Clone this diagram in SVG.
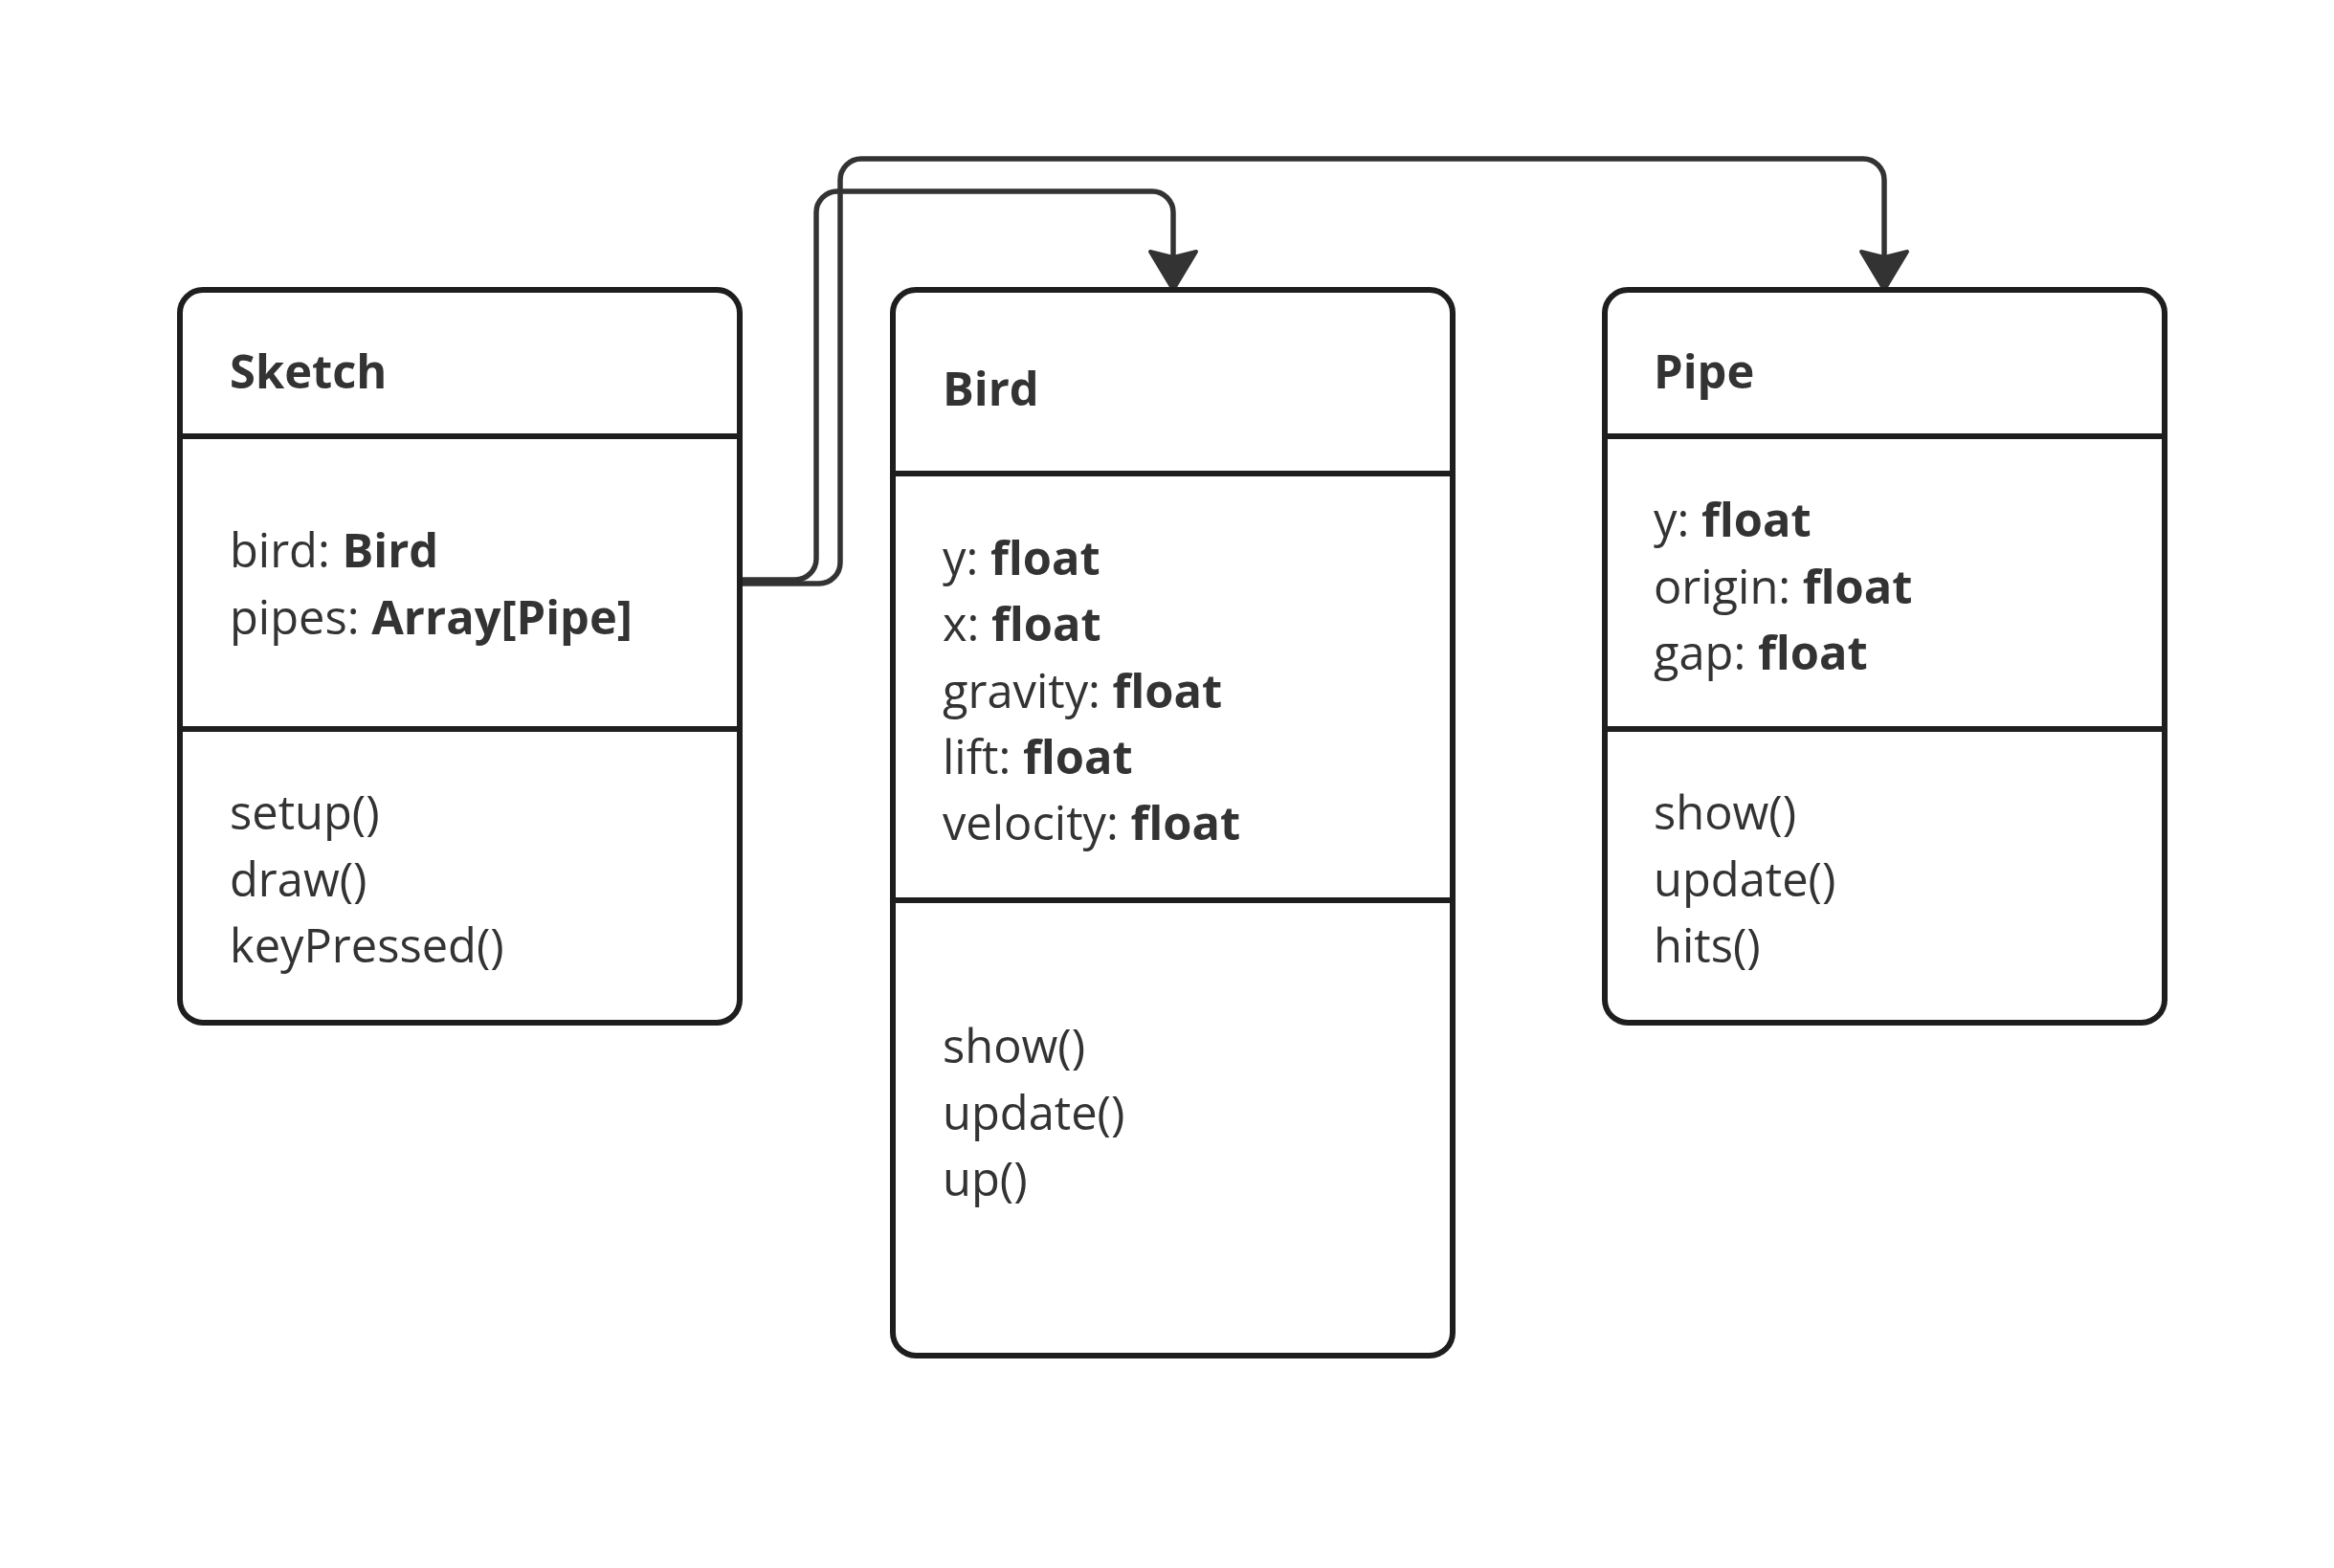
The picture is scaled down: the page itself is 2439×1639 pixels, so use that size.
<svg xmlns="http://www.w3.org/2000/svg" width="2439" height="1639" viewBox="0 0 2439 1639">
<style>
.box{fill:#ffffff;stroke:#1e1e1e;stroke-width:6}
.div{stroke:#1e1e1e;stroke-width:6;fill:none}
.t{font-family:"Open Sans","Noto Sans","Liberation Sans",sans-serif;font-size:48.8px;fill:#333333}
.b{font-weight:bold}
.conn{fill:none;stroke:#333333;stroke-width:5.5}
</style>
<defs>
<marker id="arr" markerUnits="userSpaceOnUse" markerWidth="60" markerHeight="60" refX="0" refY="0" orient="auto" overflow="visible" viewBox="-10 -30 50 60">
<path d="M 34 0 L -6 -24 L 0 0 L -6 24 Z" fill="#333333" stroke="#333333" stroke-width="4" stroke-linejoin="round"/>
</marker>
</defs>
<rect width="2439" height="1639" fill="#ffffff"/>
<g id="connectors">
<path class="conn" d="M 773 606 H 831 A 22 22 0 0 0 853 584 V 222 A 22 22 0 0 1 875 200 H 1204 A 22 22 0 0 1 1226 222 V 269" marker-end="url(#arr)"/>
<path class="conn" d="M 773 610 H 856 A 22 22 0 0 0 878 588 V 188 A 22 22 0 0 1 900 166 H 1947 A 22 22 0 0 1 1969 188 V 269" marker-end="url(#arr)"/>
</g>
<g id="sketch">
<rect class="box" x="188" y="303" width="585" height="766" rx="24"/>
<line class="div" x1="188" y1="456" x2="773" y2="456"/>
<line class="div" x1="188" y1="762" x2="773" y2="762"/>
<text class="t b" x="240" y="406">Sketch</text>
<text class="t" x="240" y="593">bird: <tspan class="b">Bird</tspan></text>
<text class="t" x="240" y="663">pipes: <tspan class="b">Array[Pipe]</tspan></text>
<text class="t" x="240" y="867">setup()</text>
<text class="t" x="240" y="937">draw()</text>
<text class="t" x="240" y="1006">keyPressed()</text>
</g>
<g id="bird">
<rect class="box" x="933" y="303" width="585" height="1114" rx="24"/>
<line class="div" x1="933" y1="495" x2="1518" y2="495"/>
<line class="div" x1="933" y1="941" x2="1518" y2="941"/>
<text class="t b" x="985" y="424">Bird</text>
<text class="t" x="985" y="601">y: <tspan class="b">float</tspan></text>
<text class="t" x="985" y="670">x: <tspan class="b">float</tspan></text>
<text class="t" x="985" y="740">gravity: <tspan class="b">float</tspan></text>
<text class="t" x="985" y="809">lift: <tspan class="b">float</tspan></text>
<text class="t" x="985" y="878">velocity: <tspan class="b">float</tspan></text>
<text class="t" x="985" y="1111">show()</text>
<text class="t" x="985" y="1181">update()</text>
<text class="t" x="985" y="1250">up()</text>
</g>
<g id="pipe">
<rect class="box" x="1677" y="303" width="585" height="766" rx="24"/>
<line class="div" x1="1677" y1="456" x2="2262" y2="456"/>
<line class="div" x1="1677" y1="762" x2="2262" y2="762"/>
<text class="t b" x="1728" y="406">Pipe</text>
<text class="t" x="1728" y="561">y: <tspan class="b">float</tspan></text>
<text class="t" x="1728" y="631">origin: <tspan class="b">float</tspan></text>
<text class="t" x="1728" y="700">gap: <tspan class="b">float</tspan></text>
<text class="t" x="1728" y="867">show()</text>
<text class="t" x="1728" y="937">update()</text>
<text class="t" x="1728" y="1006">hits()</text>
</g>
</svg>
